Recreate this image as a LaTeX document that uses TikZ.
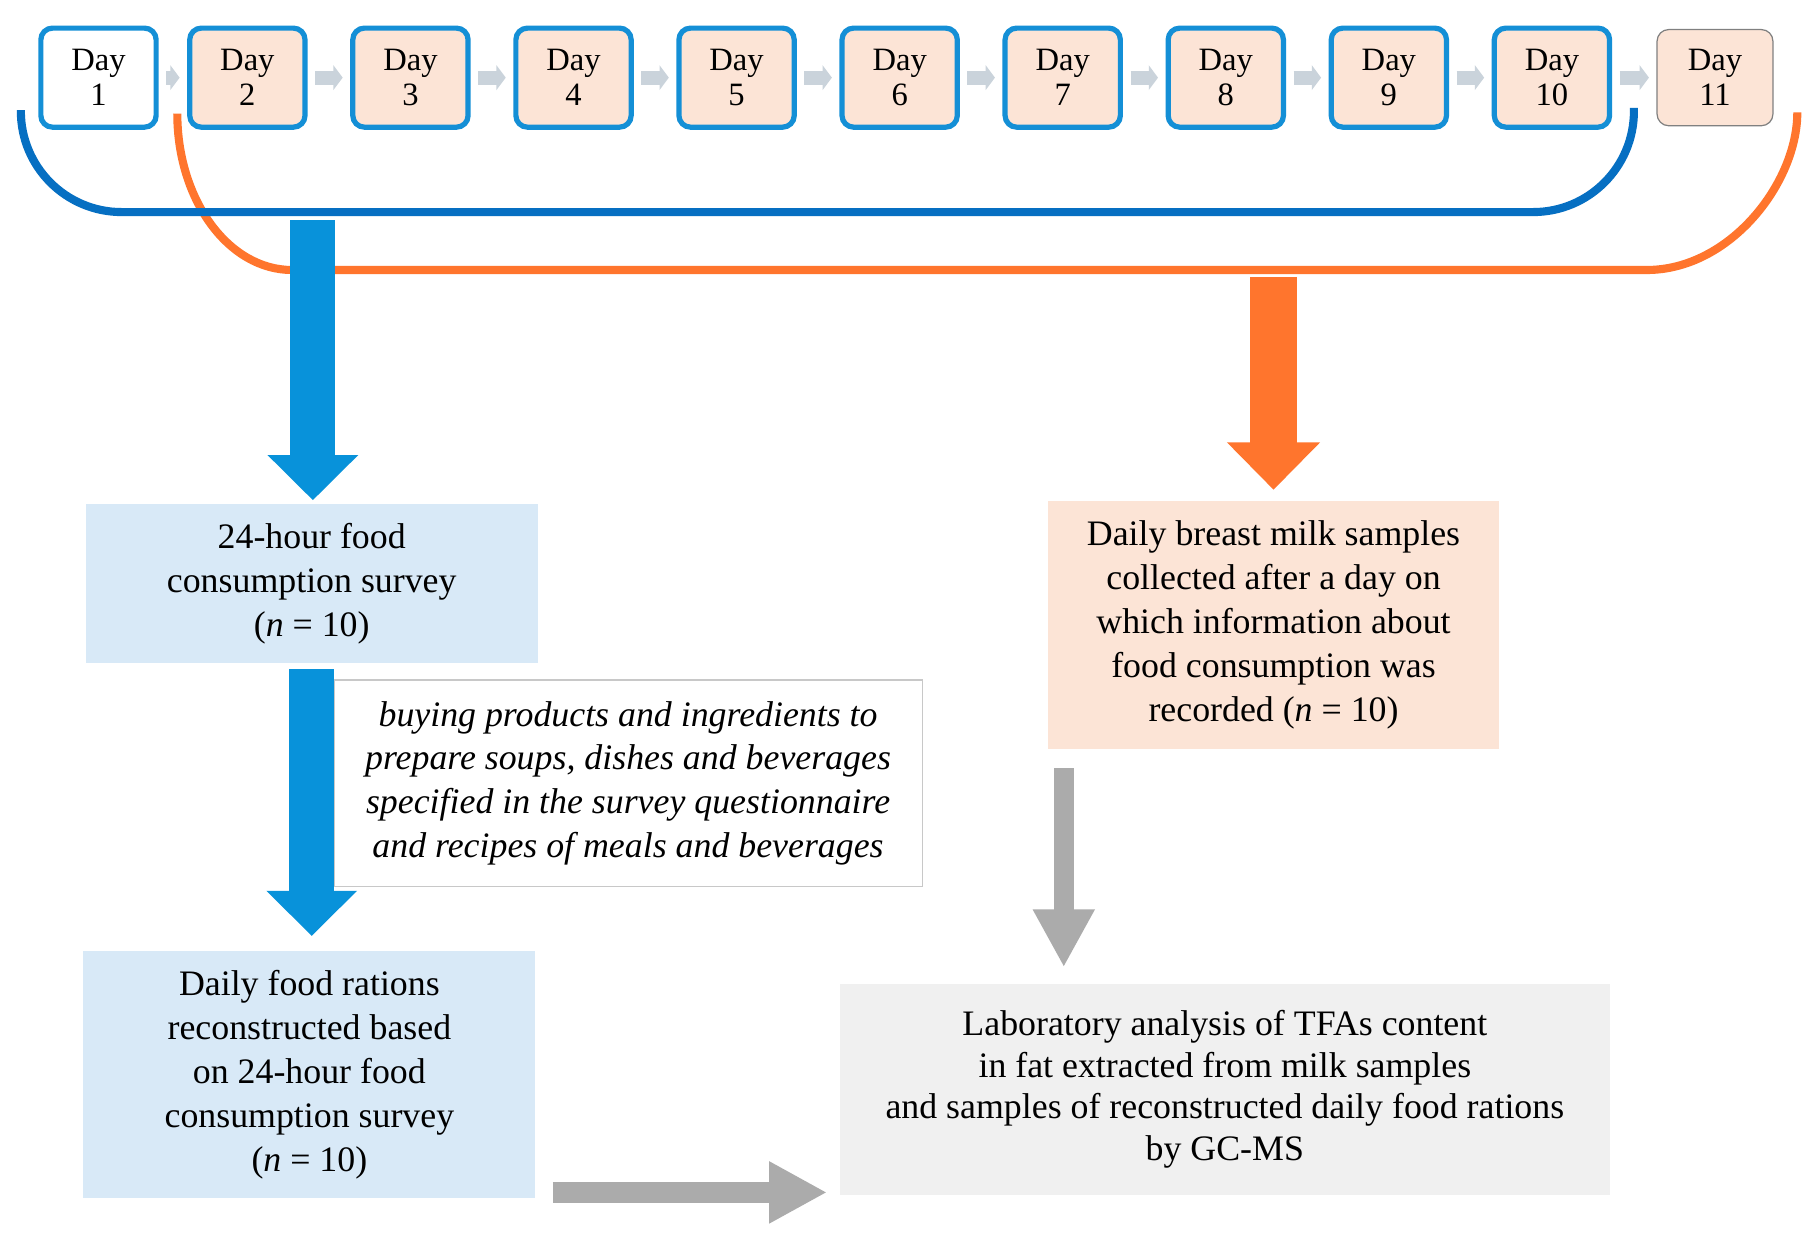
\documentclass[tikz,border=0pt]{standalone}
\usepackage{fontspec}
\setmainfont{Liberation Serif}
\usetikzlibrary{arrows.meta}

\definecolor{dayblue}{RGB}{20,143,214}
\definecolor{arrowblue}{RGB}{8,146,218}
\definecolor{darkblue}{RGB}{6,111,194}
\definecolor{orng}{RGB}{255,117,45}
\definecolor{peach}{RGB}{252,228,214}
\definecolor{paleblue}{RGB}{216,233,247}
\definecolor{labgray}{RGB}{240,240,240}
\definecolor{boxgray}{RGB}{200,200,200}
\definecolor{arrowgray}{RGB}{171,171,171}
\definecolor{chevgray}{RGB}{202,211,219}

\begin{document}
\begin{tikzpicture}[x=0.02cm,y=-0.02cm,node distance=2.815cm,
    day node/.style={draw=dayblue,line width=0.09cm,rounded corners=0.2cm,fill=peach,minimum width=1.99cm,minimum height=1.71cm,align=center,inner sep=0pt,font=\fontsize{16}{17}\selectfont},
    info node/.style={minimum width=7.8cm,align=center,inner sep=0pt,font=\fontsize{17.6}{21.6}\selectfont},
    chevron/.style={color=chevgray,line width=0.24cm,-{Triangle[length=0.16cm,width=0.42cm]},shorten <=0.13cm,shorten >=0.13cm},
    big blue/.style={draw=arrowblue,line width=0.78cm,-{Triangle[length=0.78cm,width=1.52cm]}},
    big orange/.style={draw=orng,line width=0.8cm,-{Triangle[length=0.82cm,width=1.56cm]}},
    big gray/.style={draw=arrowgray,line width=0.35cm,-{Triangle[length=1cm,width=1cm]}},
    bracket/.style={line width=0.14cm}]
    \path[use as bounding box,fill=white] (0,0) rectangle (1568,1068);

    % days
    \node[day node, fill=white] (d1) at (85,67) {Day\\1};
    \node[day node] (d2) [right of = d1, xshift = -0.245cm] {Day\\2};
    \node[day node] (d3) [right of = d2] {Day\\3};
    \node[day node] (d4) [right of = d3] {Day\\4};
    \node[day node] (d5) [right of = d4] {Day\\5};
    \node[day node] (d6) [right of = d5] {Day\\6};
    \node[day node] (d7) [right of = d6] {Day\\7};
    \node[day node] (d8) [right of = d7] {Day\\8};
    \node[day node] (d9) [right of = d8] {Day\\9};
    \node[day node] (d10) [right of = d9] {Day\\10};
    \node[day node, draw=gray, line width=0.6pt, minimum width=2.0cm, minimum height=1.66cm] (d11) [right of = d10] {Day\\11};

    \path[chevron]
        (d1) edge (d2)
        (d2) edge (d3)
        (d3) edge (d4)
        (d4) edge (d5)
        (d5) edge (d6)
        (d6) edge (d7)
        (d7) edge (d8)
        (d8) edge (d9)
        (d9) edge (d10)
        (d10) edge (d11)
        ;

    % brackets
    \coordinate (bl) at (18,95);
    \coordinate (br) at (1410,93);
    \coordinate (ol) at (153,98);
    \coordinate (or) at (1551,97);
    \draw[bracket, draw=orng] (ol) .. controls (153,172.6) and (197.3,233) .. (252,233) -- (1421,233) .. controls (1492.8,233) and (1551,157.9) .. (or);
    \draw[bracket, draw=darkblue, rounded corners=1.74cm] (bl) |- (700,183) -| (br);

    % boxes
    \node[info node, fill=paleblue, minimum height=2.74cm] (survey) at (269,503.5) {24-hour food\\consumption survey\\(\textit{n} = 10)};
    \node[info node, draw=boxgray, line width=0.8pt, fill=white, minimum width=10.16cm, minimum height=3.56cm, font=\fontsize{17.6}{21.6}\selectfont\itshape] (notes) at (542,676) {buying products and ingredients to\\prepare soups, dishes and beverages\\specified in the survey questionnaire\\and recipes of meals and beverages};
    \node[info node, fill=paleblue, minimum height=4.26cm] (rations) at (267,927.5) {Daily food rations\\reconstructed based\\on 24-hour food\\consumption survey\\(\textit{n} = 10)};
    \node[info node, fill=peach, minimum height=4.28cm] (milk) at (1099,539) {Daily breast milk samples\\collected after a day on\\which information about\\food consumption was\\recorded (\textit{n} = 10)};
    \node[info node, fill=labgray, minimum width=13.28cm, minimum height=3.64cm, font=\fontsize{17.6}{20.5}\selectfont] (lab) at (1057,940) {Laboratory analysis of TFAs content\\in fat extracted from milk samples\\and samples of reconstructed daily food rations\\by GC-MS};

    % arrows
    \coordinate (bstart) at (270,190);
    \coordinate (ostart) at (1099,239);
    \coordinate (gdown) at (918,663);
    \coordinate (gright) at (477,1029);
    \draw[big blue, shorten >=0.06cm] (bstart) -- (bstart |- survey.north);
    \draw[big blue, shorten <=0.1cm, shorten >=0.26cm] (survey.south) -- (survey.south |- rations.north);
    \draw[big orange, shorten >=0.18cm] (ostart) -- (milk.north);
    \draw[big gray, shorten >=0.28cm] (gdown) -- (gdown |- lab.north);
    \draw[big gray, shorten >=0.22cm] (gright) -- (lab.west |- gright);
\end{tikzpicture}
\end{document}
